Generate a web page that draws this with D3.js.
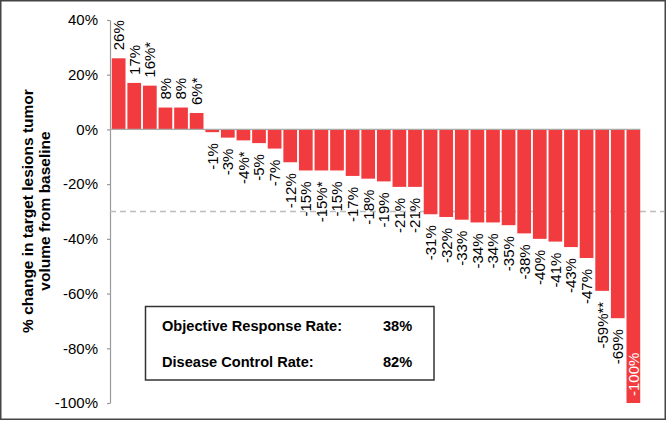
<!DOCTYPE html>
<html><head><meta charset="utf-8">
<script src="https://cdn.jsdelivr.net/npm/d3@7"></script>
<style>
html,body{margin:0;padding:0;background:#fff;}
svg{display:block;font-family:"Liberation Sans",Arial,Helvetica,sans-serif;}
</style></head>
<body>
<svg id="chart" width="667" height="421"></svg>
<script>
const patients = d3.range(1, 35).map(i => "P" + i);
const values = [26,17,16,8,8,6,-1,-3,-4,-5,-7,-12,-15,-15,-15,-17,-18,-19,-21,-21,-31,-32,-33,-34,-34,-35,-38,-40,-41,-43,-47,-59,-69,-100];
const labels = ["26%","17%","16%*","8%","8%","6%*","-1%","-3%","-4%*","-5%","-7%","-12%","-15%","-15%*","-15%","-17%","-18%","-19%","-21%","-21%","-31%","-32%","-33%","-34%","-34%","-35%","-38%","-40%","-41%","-43%","-47%","-59%**","-69%","-100%"];
const yTicks = [40,20,0,-20,-40,-60,-80,-100];
const threshold = -30;
const summaryNames = ["Objective Response Rate:","Disease Control Rate:"];
const summaryValues = ["38%","82%"];
const titleLines = ["% change in target lesions tumor","volume from baseline"];

const svg = d3.select("#chart");
const barColor = "#f23b3f";

// outer frame
svg.append("rect").attr("x",0.75).attr("y",0.75).attr("width",664.5).attr("height",418.5)
  .attr("fill","none").attr("stroke","#444").attr("stroke-width",1.5);

const x = d3.scaleBand().domain(patients).range([111, 641]).paddingInner(0.12).paddingOuter(0.05);
const y = d3.scaleLinear().domain([-100, 40]).range([403, 20]);

// y axis
const yAxis = d3.axisLeft(y).tickValues(yTicks).tickFormat(d => d + "%").tickSize(3).tickSizeOuter(0).tickPadding(9);
const gy = svg.append("g").attr("transform","translate(110,0)").call(yAxis);
gy.select(".domain").attr("stroke","#999").attr("stroke-width",1.2);
gy.selectAll(".tick line").attr("stroke","#999").attr("stroke-width",1.2);
gy.selectAll(".tick text").attr("font-size","15px").attr("fill","#000").attr("font-family","Liberation Sans, Arial, sans-serif");

// dashed threshold line
svg.append("line").attr("x1",110).attr("x2",664).attr("y1",y(threshold)).attr("y2",y(threshold))
  .attr("stroke","#bdbdbd").attr("stroke-width",1.3).attr("stroke-dasharray","6,4");

// bars
svg.append("g").selectAll("rect").data(values).join("rect")
  .attr("x",(d,i)=>x(patients[i]))
  .attr("width",x.bandwidth())
  .attr("y",d=>y(Math.max(0,d)))
  .attr("height",d=>Math.abs(y(d)-y(0)))
  .attr("fill",barColor);

// zero line
svg.append("line").attr("x1",110).attr("x2",x(patients[patients.length-1])+x.bandwidth())
  .attr("y1",y(0)).attr("y2",y(0)).attr("stroke","#aaa").attr("stroke-width",1.3);

// value labels
svg.append("g").selectAll("text").data(values).join("text")
  .attr("transform",(d,i)=>{
    const cx = x(patients[i]) + x.bandwidth()/2;
    let yy;
    if (d >= 0) yy = y(d) - 8;
    else if (d <= -100) yy = y(d) - 7;
    else yy = y(d) + 11;
    return `translate(${cx},${yy}) rotate(-90)`;
  })
  .attr("text-anchor",d=> (d>=0 || d<=-100) ? "start" : "end")
  .attr("dy","0.36em")
  .attr("font-size","15px")
  .attr("fill",d=> d<=-100 ? "#fff" : "#000")
  .text((d,i)=>labels[i]);

// y title
const title = svg.append("text").attr("transform","translate(33,211) rotate(-90)")
  .attr("text-anchor","middle").attr("font-size","15.5px").attr("font-weight","bold");
title.selectAll("tspan").data(titleLines).join("tspan")
  .attr("x",0).attr("dy",(d,i)=> i===0 ? 0 : 17).text(d=>d);

// summary box
svg.append("rect").attr("x",145.5).attr("y",306.5).attr("width",288.5).attr("height",73.5)
  .attr("fill","#fff").attr("stroke","#333").attr("stroke-width",1.5);
const sg = svg.append("g");
summaryNames.forEach((n,i)=>{
  sg.append("text").attr("x",162).attr("y",331 + i*36).attr("font-size","14.6px").attr("font-weight","bold").text(n);
  sg.append("text").attr("x",383).attr("y",331 + i*36).attr("font-size","14.6px").attr("font-weight","bold").text(summaryValues[i]);
});
</script>
</body></html>
